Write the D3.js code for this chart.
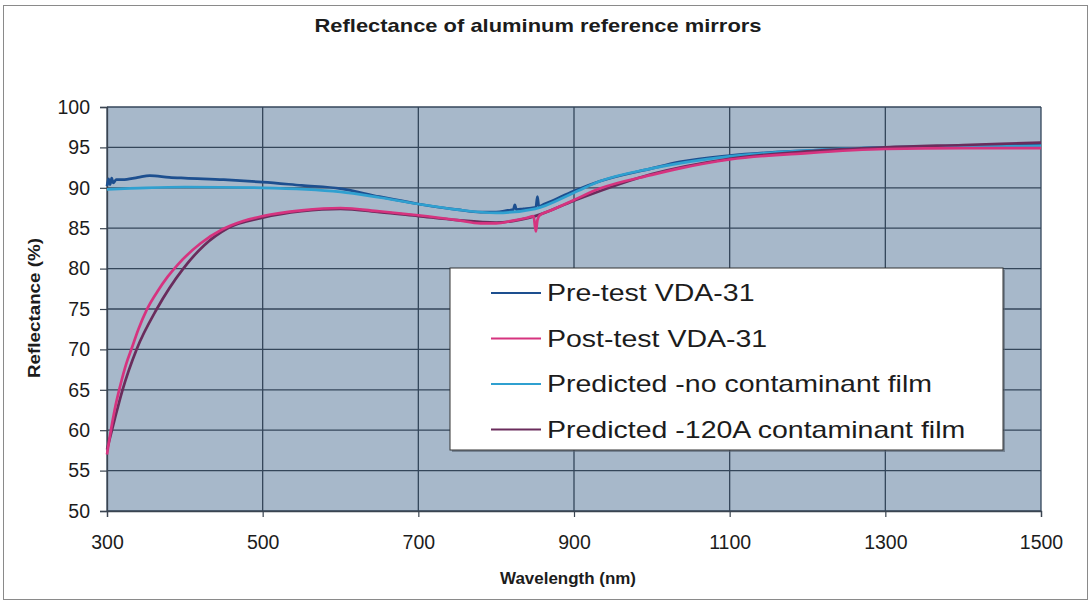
<!DOCTYPE html>
<html>
<head>
<meta charset="utf-8">
<script src="https://cdn.jsdelivr.net/npm/d3@7"></script>
<style>
  html, body { margin: 0; padding: 0; background: #fff; }
  svg { display: block; font-family: Arial, "Liberation Sans", sans-serif; }
</style>
</head>
<body>
<svg id="chart" width="1091" height="604"></svg>
<script>
// Reflectance spectra of aluminum reference mirrors (wavelength nm, reflectance %)
const preTestWl = [300, 302, 304, 306, 308, 312, 320, 340, 355, 380, 400, 450, 500, 550, 600, 650, 700, 750, 780, 800, 815, 822, 824, 826, 835, 845, 851, 853, 855, 858, 870, 900, 933, 1000, 1036, 1100, 1200, 1300, 1400, 1500];
const preTestR  = [90.2, 91.1, 90.4, 91.2, 90.6, 91.0, 91.0, 91.3, 91.5, 91.3, 91.2, 91.0, 90.7, 90.3, 89.9, 88.9, 88.0, 87.3, 87.0, 87.0, 87.2, 87.3, 87.9, 87.3, 87.4, 87.5, 87.6, 88.9, 87.6, 87.8, 88.3, 89.6, 90.8, 92.4, 93.2, 94.0, 94.6, 95.0, 95.2, 95.4];

const postTestWl = [300, 305, 310, 317, 325, 332, 340, 351, 365, 378, 391, 420, 449, 475, 500, 550, 600, 650, 700, 750, 780, 800, 820, 840, 848, 851, 853, 856, 870, 900, 933, 1000, 1036, 1100, 1200, 1300, 1400, 1500];
const postTestR  = [57.0, 60.0, 62.6, 65.5, 68.3, 70.2, 72.4, 74.9, 77.2, 79.0, 80.5, 83.1, 84.9, 85.9, 86.5, 87.2, 87.5, 87.1, 86.6, 86.0, 85.6, 85.6, 85.9, 86.3, 86.5, 84.6, 86.0, 86.6, 87.2, 88.5, 89.9, 91.6, 92.4, 93.5, 94.3, 94.8, 94.9, 94.9];

const predCleanWl = [300, 350, 400, 500, 600, 650, 700, 750, 800, 850, 900, 933, 1000, 1100, 1200, 1300, 1400, 1500];
const predCleanR  = [89.8, 90.0, 90.1, 90.0, 89.5, 88.8, 88.0, 87.3, 86.9, 87.4, 89.4, 90.8, 92.4, 93.9, 94.6, 95.0, 95.1, 95.2];

const predFilmWl = [300, 310, 320, 338, 364, 398, 425, 455, 500, 550, 600, 650, 700, 750, 800, 850, 900, 1000, 1100, 1200, 1300, 1400, 1500];
const predFilmR  = [57.6, 61.4, 65.0, 70.0, 75.0, 80.0, 82.9, 85.0, 86.3, 87.1, 87.4, 87.0, 86.5, 86.0, 85.7, 86.5, 88.4, 91.7, 93.6, 94.5, 95.0, 95.3, 95.6];

const seriesNames  = ["Pre-test VDA-31", "Post-test VDA-31", "Predicted -no contaminant film", "Predicted -120A contaminant film"];
const seriesColors = ["#1d4f8f", "#d6337f", "#2fa0d0", "#6a2c5c"];

const xTicks = [300, 500, 700, 900, 1100, 1300, 1500];
const yTicks = [50, 55, 60, 65, 70, 75, 80, 85, 90, 95, 100];

const zip = (wl, r) => wl.map((w, i) => ({ w, r: r[i] }));
const series = [
  { name: seriesNames[0], color: seriesColors[0], pts: zip(preTestWl, preTestR) },
  { name: seriesNames[2], color: seriesColors[2], pts: zip(predCleanWl, predCleanR) },
  { name: seriesNames[3], color: seriesColors[3], pts: zip(predFilmWl, predFilmR) },
  { name: seriesNames[1], color: seriesColors[1], pts: zip(postTestWl, postTestR) }
];

const svg = d3.select("#chart");
const plot = { left: 107, right: 1041, top: 107, bottom: 511 };
const ink = "#1c1c1c";

// outer chart frame
svg.append("rect")
  .attr("x", 3.5).attr("y", 5.5).attr("width", 1084).attr("height", 594)
  .attr("fill", "#fff").attr("stroke", "#8a8a8a").attr("stroke-width", 1);

const x = d3.scaleLinear().domain([300, 1500]).range([plot.left, plot.right]);
const y = d3.scaleLinear().domain([50, 100]).range([plot.bottom, plot.top]);

// plot background
svg.append("rect")
  .attr("x", plot.left).attr("y", plot.top)
  .attr("width", plot.right - plot.left).attr("height", plot.bottom - plot.top)
  .attr("fill", "#a7b8ca");

// gridlines
const grid = svg.append("g").attr("stroke", "#34465a").attr("stroke-width", 1.3);
grid.selectAll("line.h").data(yTicks).join("line")
  .attr("x1", plot.left).attr("x2", plot.right)
  .attr("y1", d => y(d)).attr("y2", d => y(d));
grid.selectAll("line.v").data(xTicks).join("line")
  .attr("y1", plot.top).attr("y2", plot.bottom)
  .attr("x1", d => x(d)).attr("x2", d => x(d));

// axes
const yAxis = svg.append("g")
  .attr("transform", `translate(${plot.left},0)`)
  .call(d3.axisLeft(y).tickValues(yTicks).tickSize(7).tickPadding(10));
const xAxis = svg.append("g")
  .attr("transform", `translate(0,${plot.bottom})`)
  .call(d3.axisBottom(x).tickValues(xTicks).tickSize(6).tickPadding(18).tickFormat(d3.format("d")));
[yAxis, xAxis].forEach(a => {
  a.select(".domain").attr("stroke", "#3a4450").attr("stroke-width", 1.3);
  a.selectAll(".tick line").attr("stroke", "#3a4450").attr("stroke-width", 1.2);
  a.selectAll(".tick text").attr("fill", ink)
    .style("font-size", "19.5px").style("font-family", "Arial, 'Liberation Sans', sans-serif");
});

// series lines
const line = d3.line().x(d => x(d.w)).y(d => y(d.r)).curve(d3.curveMonotoneX);
const linesG = svg.append("g");
series.forEach(s => {
  linesG.append("path")
    .datum(s.pts)
    .attr("fill", "none")
    .attr("stroke", s.color)
    .attr("stroke-width", 2.7)
    .attr("stroke-linejoin", "round")
    .attr("d", line);
});

// titles
svg.append("text")
  .attr("x", 538).attr("y", 32)
  .attr("text-anchor", "middle")
  .attr("textLength", 447).attr("lengthAdjust", "spacingAndGlyphs")
  .style("font-size", "19px").style("font-weight", "bold").attr("fill", ink)
  .text("Reflectance of aluminum reference mirrors");
svg.append("text")
  .attr("x", 568).attr("y", 584)
  .attr("text-anchor", "middle")
  .attr("textLength", 136).attr("lengthAdjust", "spacingAndGlyphs")
  .style("font-size", "16px").style("font-weight", "bold").attr("fill", ink)
  .text("Wavelength (nm)");
svg.append("text")
  .attr("transform", "translate(40,308) rotate(-90)")
  .attr("text-anchor", "middle")
  .attr("textLength", 140).attr("lengthAdjust", "spacingAndGlyphs")
  .style("font-size", "16px").style("font-weight", "bold").attr("fill", ink)
  .text("Reflectance (%)");

// legend
const lg = svg.append("g").attr("transform", "translate(450,268)");
lg.append("rect")
  .attr("x", 2).attr("y", 2).attr("width", 553).attr("height", 182)
  .attr("fill", "#556070").attr("opacity", 0.6);
lg.append("rect")
  .attr("width", 553).attr("height", 182)
  .attr("fill", "#fff").attr("stroke", "#333").attr("stroke-width", 1);
[0, 1, 2, 3].forEach((k, i) => {
  const cy = 25 + i * 45.5;
  lg.append("line")
    .attr("x1", 41).attr("x2", 91).attr("y1", cy).attr("y2", cy)
    .attr("stroke", seriesColors[k]).attr("stroke-width", 2.2);
  lg.append("text")
    .attr("transform", `translate(97,${cy + 8}) scale(1.24,1)`)
    .style("font-size", "23px").attr("fill", ink)
    .text(seriesNames[k]);
});
</script>
</body>
</html>
